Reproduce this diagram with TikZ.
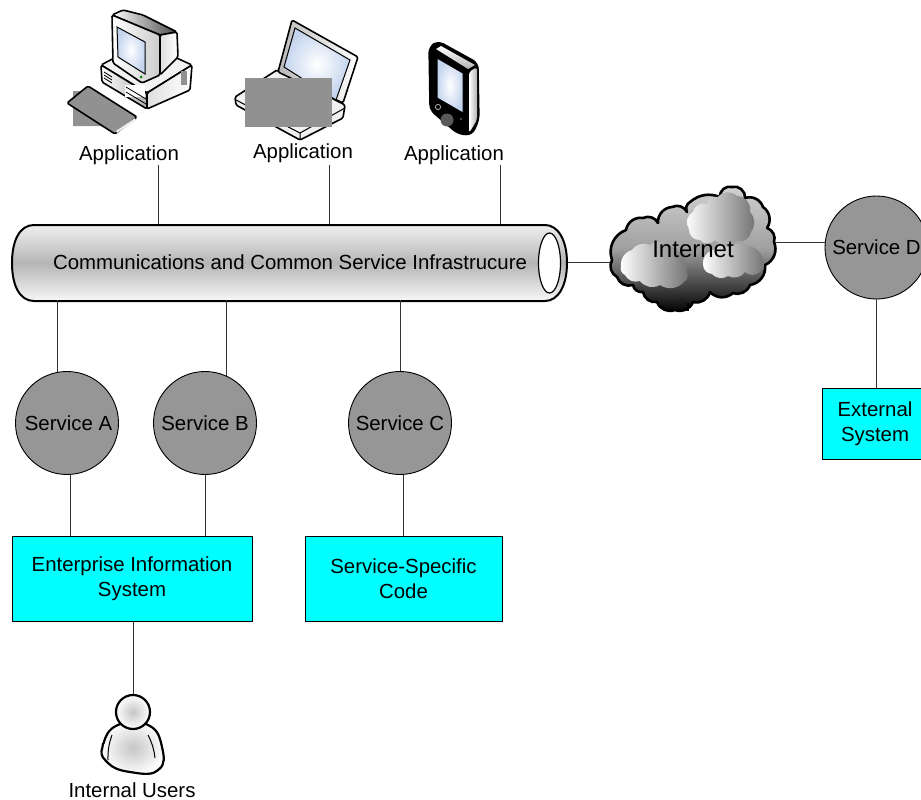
\documentclass[tikz,border=0pt]{standalone}
\usepackage{fontspec}
\setmainfont{Liberation Sans}
\usetikzlibrary{calc,positioning}
\definecolor{servicegray}{HTML}{969696}
\definecolor{maskgray}{HTML}{919191}
\definecolor{screenblue}{HTML}{C4D4EE}
\definecolor{boxcyan}{RGB}{0,255,255}
\tikzset{
	service/.style={draw=black,fill=servicegray,circle,minimum size=103pt,inner sep=0pt,line width=0.9pt},
	system/.style={draw=black,fill=boxcyan,inner sep=0pt,align=center,line width=0.9pt},
	label/.style={inner sep=0pt,align=center},
	link/.style={draw=black!80,line width=1pt},
	outline/.style={draw=black,line width=1.6pt,line join=round,rounded corners=1.5pt},
	metal/.style={outline,left color=gray!25,right color=white},
	screen/.style={draw=black,line width=1pt,inner color=white,outer color=screenblue},
	puff/.style={left color=white,right color=black!55}
}
\begin{document}
\begin{tikzpicture}[x=1pt,y=-1pt,every node/.style={font=\fontsize{20.4}{25}\selectfont}]
	\useasboundingbox (0,0) rectangle (921,800);

	\draw[line width=2pt,top color=gray!12,bottom color=gray!6,middle color=gray!58]
		(34,225) -- (545,225) .. controls (558,225) and (567,240) .. (567,263)
		.. controls (567,286) and (558,301) .. (545,301) -- (34,301)
		.. controls (20,301) and (12,286) .. (12,263) .. controls (12,240) and (20,225) .. (34,225) -- cycle;
	\draw[line width=1.2pt,fill=white] (549.5,263) ellipse (11 and 30);
	\node[label,minimum width=555pt,minimum height=76pt]	(pipe)		at (290,262)	{Communications and Common Service Infrastrucure};

	\node[service]	(sa)	at (67,423)		{\hspace{3pt}Service A};
	\node[service]	(sb)	at (205,423)	{Service B};
	\node[service]	(sc)	at (400,423)	{Service C};
	\node[service]	(sd)	at (876.5,247.5)	{Service D};

	\node[system,minimum width=240pt,minimum height=85pt]	(eis)	at (132,578.5)	{Enterprise Information\\System};
	\node[system,minimum width=197pt,minimum height=85pt]	(ssc)	at (403.5,578.5)	{Service-Specific\\Code};
	\node[system,minimum width=106pt,minimum height=71pt]	(ext)	at (875,423.5)	{External\\System};

	\node[label]	(appa)	at (129,155)	{Application};
	\node[label]	(appb)	at (303,153)	{Application};
	\node[label]	(appc)	at (454,155)	{Application};
	\node[label]	(users)	at (132,790)	{Internal Users};

	\coordinate	(tapa)	at (158,165);
	\coordinate	(tapb)	at (329,165);
	\coordinate	(tapc)	at (500,165);
	\coordinate	(cloudw)	at (611,262);
	\coordinate	(cloude)	at (775,242);
	\coordinate	(head)	at (133,695);

	\draw[link]	(tapa) -- (tapa |- pipe.north);
	\draw[link]	(tapb) -- (tapb |- pipe.north);
	\draw[link]	(tapc) -- (tapc |- pipe.north);
	\draw[link]	(sa.100 |- pipe.south) -- (sa.100);
	\draw[link]	(sb.66 |- pipe.south) -- (sb.66);
	\draw[link]	(sc.north |- pipe.south) -- (sc.north);
	\draw[link]	(sa.-86) -- (sa.-86 |- eis.north);
	\draw[link]	(sb.south) -- (sb.south |- eis.north);
	\draw[link]	(sc.-86) -- (sc.-86 |- ssc.north);
	\draw[link]	(sd.south) -- (sd.south |- ext.north);
	\draw[link]	(eis.south -| head) -- (head);
	\draw[link]	(pipe.east) -- (cloudw);
	\draw[link]	(cloude) -- (cloude -| sd.west);

	\draw[line width=2.6pt,top color=gray!35,bottom color=black,middle color=gray!75,line join=round]
		(612,260) to[bend left=45] (626,230) to[bend left=45] (643,218) to[bend left=45] (658,223)
		to[bend left=45] (672,207) to[bend left=45] (687,212) to[bend left=45] (690,202)
		to[bend left=30] (720,197) to[bend left=60] (732,187) to[bend left=60] (745,198)
		to[bend left=45] (763,207) to[bend left=45] (767,228) to[bend left=45] (774,242)
		to[bend left=45] (765,265) to[bend left=45] (750,285) to[bend left=45] (733,293)
		to[bend left=45] (710,292) to[bend left=45] (693,302) to[bend left=45] (675,310)
		to[bend left=45] (657,302) to[bend left=45] (643,292) to[bend left=45] (633,285)
		to[bend left=45] (617,277) to[bend left=45] cycle;
	\draw[line width=1.6pt]	(688,303) -- (688,311);
	\path[puff]
		(689,229) to[bend left=50] (693,212) to[bend left=50] (707,204) to[bend left=50] (718,197)
		to[bend left=50] (737,196) to[bend left=50] (750,212) to[bend left=40] (751,232)
		to[bend left=50] (737,241) to[bend left=40] (715,240) to[bend left=50] (700,240) to[bend left=50] cycle;
	\path[puff]
		(621,266) to[bend left=40] (632,250) to[bend left=40] (650,245) to[bend left=40] (672,247)
		to[bend left=30] (687,272) to[bend left=40] (684,282) to[bend left=40] (660,285)
		to[bend left=40] (640,281) to[bend left=40] (625,275) to[bend left=40] cycle;
	\path[puff]
		(703,265) to[bend left=40] (713,250) to[bend left=40] (730,248) to[bend left=40] (746,246)
		to[bend left=40] (763,260) to[bend left=40] (760,272) to[bend left=40] (745,272)
		to[bend left=40] (728,276) to[bend left=40] (712,274) to[bend left=40] cycle;
	\node[label,font=\fontsize{24}{25}\selectfont]	(internet)	at (693,249)	{Internet};

	\draw[outline,fill=white!90!gray]	(101,65) -- (120,55) -- (170,55) -- (192,65) -- (147,93) -- cycle;
	\draw[metal]	(147,93) -- (192,65) -- (190,90) -- (147,109) -- cycle;
	\draw[outline,right color=gray!65,left color=white]	(101,65) -- (147,93) -- (147,109) -- (102,82) -- cycle;
	\draw[line width=0.8pt]	(104,72) -- (112,77) (104,75) -- (112,80) (104,78) -- (112,83);
	\fill[white]	(125,85) rectangle (145,97);
	\draw[line width=0.8pt]	(126,87) -- (146,99) (126,92) -- (146,104);
	\fill[maskgray]	(181,71) rectangle (187,85);
	\draw[outline,left color=white,right color=black!70]	(112,15) -- (123,10) -- (143,15) -- (177,32) -- (160,35) -- cycle;
	\draw[metal]	(160,35) -- (177,32) -- (178,57) -- (160,75) -- cycle;
	\draw[outline,left color=white,right color=gray!40]	(112,15) -- (160,35) -- (160,75) -- (142,83) -- (113,63) -- cycle;
	\draw[screen]	(117,27) -- (145,42) -- (145,74) -- (118,57) -- cycle;
	\fill[green!50!black]	(141,77) circle (1.5);

	\fill[maskgray]	(73,91) -- (92,91) -- (103,126) -- (73,126) -- cycle;
	\draw[outline,fill=maskgray]	(67,103) -- (88,86) -- (137,117) -- (115,134) -- cycle;
	\fill[white!85!gray]	(116,131) -- (135,118) -- (135,121) -- (117,133) -- cycle;

	\draw[outline,fill=white!88!gray]	(235,97) -- (277,70) -- (345,105) -- (343,118) -- (300,140) -- (236,105) -- cycle;
	\draw[line width=1pt]	(236,100) -- (300,133) -- (345,108) (300,133) -- (300,140);
	\draw[outline,left color=gray!55,right color=white]	(292,20) -- (358,57) -- (343,103) -- (278,72) -- cycle;
	\draw[screen]	(295,28) -- (350,60) -- (336,100) -- (284,67) -- cycle;
	\fill[maskgray]	(245,78) rectangle (332,127);

	\draw[line width=1.4pt,fill=black,line join=round,rounded corners=6pt]	(429,47) -- (438,41) -- (478,63) -- (479,120) -- (472,135) -- (458,134) -- (430,110) -- cycle;
	\fill[left color=white,right color=gray!60,rounded corners=3pt]	(469,72) -- (477,67) -- (477,120) -- (469,133) -- cycle;
	\fill[top color=white,bottom color=gray!60]	(436,49) -- (441,46) -- (475,65) -- (468,69) -- cycle;
	\draw[screen]	(437,58) -- (463,73) -- (463,113) -- (437,98) -- cycle;
	\fill[black!65]	(447,120) circle (6.5);
	\draw[white!70!black,line width=0.8pt]	(438,107) circle (2.6);
	\fill[black!70]	(461,119) circle (1.4);

	\draw[outline,line width=2.2pt,inner color=gray!45,outer color=white]
		plot[smooth cycle,tension=0.8] coordinates {(118,725) (103,745) (107,762) (130,772) (158,770) (162,747) (148,725)};
	\draw[line width=1pt]	(112,735) to[bend right=10] (108,760);
	\draw[line width=1pt]	(148,735) to[bend left=10] (155,758);
	\draw[outline,line width=2.2pt,inner color=gray!45,outer color=white]	(133,712) circle (17);
\end{tikzpicture}
\end{document}
